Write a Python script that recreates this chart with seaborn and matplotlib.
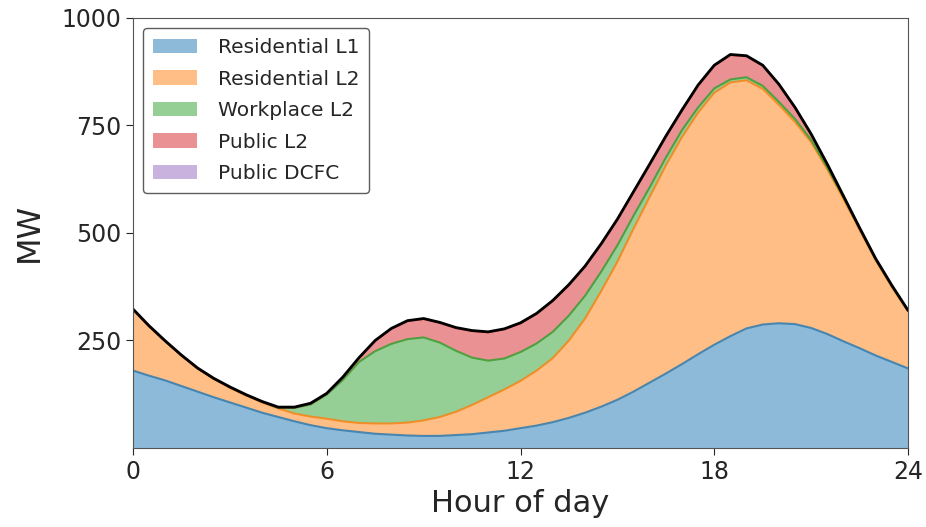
import numpy as np
import pandas as pd
import matplotlib
matplotlib.use("Agg")
import matplotlib.pyplot as plt
import seaborn as sns

#%% DATA (every half hour, MW)
# upper edge of each stacked layer as it shows on the chart
hours = [h / 2 for h in range(49)]
top_res_l1 = [180, 168, 157, 144, 131, 118, 106, 94, 82, 72, 62, 53, 46,
              41, 37, 33, 31, 29, 28, 28, 30, 32, 36, 40, 46, 52, 60,
              70, 82, 96, 112, 131, 152, 173, 195, 218, 240, 260, 278,
              287, 290, 288, 279, 265, 248, 232, 215, 200, 185]
top_res_l2 = [322, 283, 248, 215, 185, 161, 140, 122, 106, 92, 80, 73, 68,
              62, 58, 57, 57, 59, 64, 72, 84, 100, 118, 136, 156, 180, 209,
              250, 301, 365, 433, 510, 584, 657, 723, 780, 826, 850, 855,
              835, 798, 758, 711, 648, 579, 507, 436, 374, 318]
top_work_l2 = [322, 283, 248, 215, 185, 161, 141, 123, 107, 93, 93, 101, 124,
               158, 200, 225, 242, 253, 257, 245, 226, 210, 203, 208, 223,
               243, 270, 308, 354, 410, 471, 540, 606, 675, 739, 792, 836,
               857, 862, 842, 805, 765, 716, 652, 583, 510, 438, 376, 319]
total = [323, 283, 249, 216, 186, 162, 142, 124, 108, 95, 95, 104, 127,
         165, 210, 250, 278, 296, 301, 292, 280, 273, 270, 277, 291, 313,
         343, 380, 423, 475, 532, 596, 660, 725, 786, 844, 890, 915, 912,
         890, 846, 792, 730, 660, 586, 512, 440, 378, 320]
pub_dcfc = [1] * 49

labels = ["Residential L1", "Residential L2", "Workplace L2",
          "Public L2", "Public DCFC"]
xticks = [0, 6, 12, 18, 24]
yticks = [250, 500, 750, 1000]

# layer thickness from the edges
tops = pd.DataFrame({"Residential L1": top_res_l1,
                     "Residential L2": top_res_l2,
                     "Workplace L2": top_work_l2,
                     "Public L2": np.array(total) - np.array(pub_dcfc),
                     "Public DCFC": total}, index=hours)
load = tops.diff(axis=1).fillna(tops).clip(lower=0)
cum = load.cumsum(axis=1)

#%% PLOT
sns.set_style("ticks")
plt.rcParams["font.family"] = ["DejaVu Sans"]
colors = sns.color_palette("tab10", 5)

fig = plt.figure(figsize=(9.26, 5.27), dpi=100)
ax = fig.add_axes([0.1436, 0.150, 0.837, 0.816])

ax.stackplot(load.index, [load[c] for c in labels], labels=labels,
             colors=colors, alpha=0.5, linewidth=0)

# edge line on top of each layer
for c, col in zip(labels[:-1], colors):
    sns.lineplot(x=cum.index, y=cum[c], color=col, linewidth=1.5,
                 alpha=0.8, ax=ax)
sns.lineplot(x=cum.index, y=cum["Public DCFC"], color="black",
             linewidth=2, ax=ax)

ax.set_xlim(0, 24)
ax.set_ylim(0, 1000)
ax.set_xticks(xticks)
ax.set_yticks(yticks)
ax.tick_params(labelsize=17, length=5)
ax.set_xlabel("Hour of day", fontsize=22)
ax.set_ylabel("MW", fontsize=23, labelpad=12)
for s in ax.spines.values():
    s.set_color("#555555")

ax.legend(loc="upper left", fontsize=14.5, frameon=True,
          edgecolor="#333333", handlelength=2.2, labelspacing=0.62,
          borderpad=0.5, handletextpad=1.0)

fig.savefig("out.png", dpi=100)
